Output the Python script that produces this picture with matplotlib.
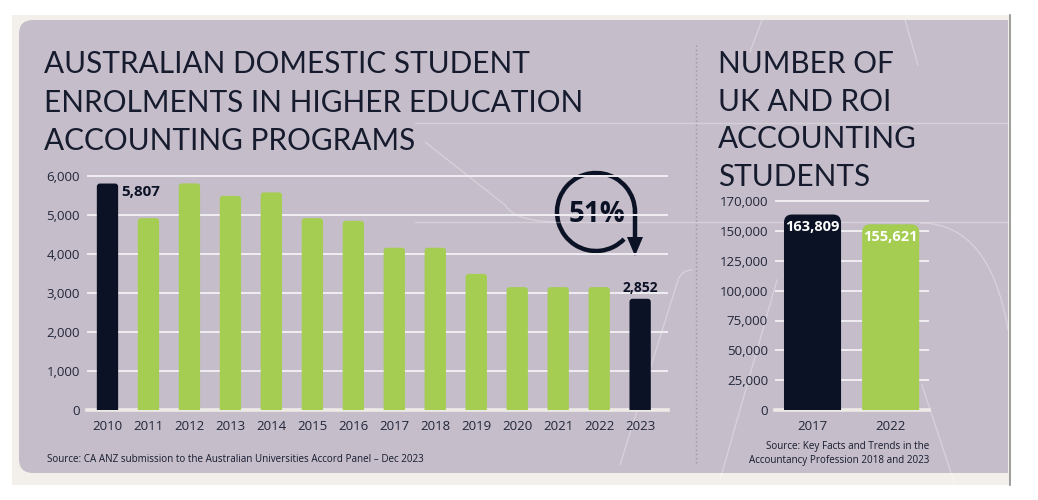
import matplotlib.pyplot as plt
from matplotlib.patches import FancyBboxPatch, Rectangle, Arc, Polygon
from matplotlib.path import Path
from matplotlib.patches import PathPatch

# ---- data ----
au_years = ["2010", "2011", "2012", "2013", "2014", "2015", "2016",
            "2017", "2018", "2019", "2020", "2021", "2022", "2023"]
au_enrol = [5807, 4920, 5810, 5490, 5580, 4920, 4850,
            4160, 4160, 3490, 3150, 3150, 3150, 2852]
au_highlight = [True] + [False] * 12 + [True]

uk_years = ["2017", "2022"]
uk_students = [163809, 155621]
uk_highlight = [True, False]

au_yticks = [0, 1000, 2000, 3000, 4000, 5000, 6000]
uk_yticks = [0, 25000, 50000, 75000, 100000, 125000, 150000, 175000]
uk_ytick_labels = ["0", "25,000", "50,000", "75,000", "100,000",
                   "125,000", "150,000", "170,000"]

NAVY = "#0c1226"
GREEN = "#a4cd51"
LAVENDER = "#c5bdca"
OFFWHITE = "#f3f0eb"
GRID = "#f1eef3"
TEXT = "#161b2e"

W, H = 1038, 500
fig = plt.figure(figsize=(W / 100, H / 100), dpi=100)
fig.patch.set_facecolor("white")

# background layer in pixel coordinates
bg = fig.add_axes([0, 0, 1, 1])
bg.set_xlim(0, W)
bg.set_ylim(H, 0)
bg.axis("off")

bg.add_patch(Rectangle((12, 15), 998, 470, facecolor=OFFWHITE, edgecolor="none"))
bg.plot([1010, 1010], [15, 485], color="#8d8d8d", lw=1.2)
bg.add_patch(FancyBboxPatch((19, 20), 989, 453, boxstyle="round,pad=0,rounding_size=14",
                            facecolor=LAVENDER, edgecolor="none"))
bg.add_patch(Rectangle((700, 20), 308, 453, facecolor=LAVENDER, edgecolor="none"))

# faint decorative lines
deco = dict(color="white", lw=1.0, alpha=0.3)
bg.plot([415, 1008], [123, 123], **deco)
bg.plot([415, 1008], [222, 222], **deco)
curve = Path([(425, 142), (505, 205), (515, 222), (560, 222)],
             [Path.MOVETO, Path.LINETO, Path.CURVE3, Path.CURVE3])
bg.add_patch(PathPatch(curve, facecolor="none", edgecolor="white", lw=1.0, alpha=0.3))
bg.plot([720, 777], [480, 280], **deco)
bg.plot([905, 918], [20, 65], **deco)
bg.plot([762, 750], [20, 52], **deco)
arc2 = Path([(920, 223), (990, 223), (1008, 330)],
            [Path.MOVETO, Path.CURVE3, Path.CURVE3])
bg.add_patch(PathPatch(arc2, facecolor="none", edgecolor="white", lw=1.0, alpha=0.3))
bg.plot([922, 955], [385, 485], **deco)
arc3 = Path([(620, 465), (678, 280), (682, 270), (692, 270)],
            [Path.MOVETO, Path.LINETO, Path.CURVE3, Path.CURVE3])
bg.add_patch(PathPatch(arc3, facecolor="none", edgecolor="white", lw=1.0, alpha=0.3))

# dotted separator
bg.plot([696, 696], [45, 465], color="#9e96a4", lw=1.0, ls=(0, (1, 2)))

# titles
title_font = dict(family="Lato", fontsize=21.4, color=TEXT, va="baseline", ha="left")
for i, line in enumerate(["AUSTRALIAN DOMESTIC STUDENT",
                          "ENROLMENTS IN HIGHER EDUCATION",
                          "ACCOUNTING PROGRAMS"]):
    bg.text(44, 73 + i * 38.5, line, **title_font)
for i, line in enumerate(["NUMBER OF", "UK AND ROI", "ACCOUNTING", "STUDENTS"]):
    bg.text(718, 73 + i * 37.7, line, **title_font)

# source notes
bg.text(47, 460, "Source: CA ANZ submission to the Australian Universities Accord Panel \u2013 Dec 2023",
        family="Open Sans", fontsize=7.1, color=TEXT, va="center", ha="left")
bg.text(929, 447, "Source: Key Facts and Trends in the",
        family="Open Sans", fontsize=7.1, color=TEXT, va="center", ha="right")
bg.text(929, 460, "Accountancy Profession 2018 and 2023",
        family="Open Sans", fontsize=7.1, color=TEXT, va="center", ha="right")

# 51% circular arrow
cx, cy, r = 596, 212, 39
bg.add_patch(Arc((cx, cy), 2 * r, 2 * r, theta1=44, theta2=360, color=NAVY, lw=3.2))
bg.plot([cx + r, cx + r], [cy - 1, 240], color=NAVY, lw=3.2, solid_capstyle="butt")
bg.add_patch(Polygon([(cx + r - 8, 237), (cx + r + 8, 237), (cx + r, 256)],
                     closed=True, facecolor=NAVY, edgecolor="none"))
bg.text(597, 214, "51%", family="Open Sans", fontweight="bold", fontsize=20,
        color=NAVY, ha="center", va="center")


def px_axes(left, top, right, bottom):
    a = fig.add_axes([left / W, 1 - bottom / H, (right - left) / W, (bottom - top) / H])
    a.patch.set_alpha(0)
    for s in a.spines.values():
        s.set_visible(False)
    return a


def round_bars(ax, bars, radius_px, px_per_x, px_per_y):
    rx = radius_px / px_per_x
    aspect = px_per_x / px_per_y
    for b in bars:
        x, w, h = b.get_x(), b.get_width(), b.get_height()
        ext = radius_px / px_per_y
        p = FancyBboxPatch((x, -ext), w, h + ext,
                           boxstyle=f"round,pad=0,rounding_size={rx}",
                           mutation_aspect=aspect,
                           facecolor=b.get_facecolor(), edgecolor="none", zorder=3)
        ax.add_patch(p)
        b.remove()


def style_axes(ax):
    ax.tick_params(axis="both", length=0, labelsize=9.5, labelcolor="#22263a")
    ax.tick_params(axis="y", pad=5)
    ax.tick_params(axis="x", pad=7)
    for lab in ax.get_xticklabels() + ax.get_yticklabels():
        lab.set_family("Open Sans")
    ax.grid(axis="y", color=GRID, lw=1.4, zorder=1)
    ax.set_axisbelow(True)
    ax.axhline(0, color="#eeebe7", lw=2.6, zorder=2, clip_on=False)


# ---- left chart ----
ax1 = px_axes(87, 164.3, 668, 410)
x1 = range(len(au_years))
bars1 = ax1.bar(x1, au_enrol, width=0.52,
                color=[NAVY if h else GREEN for h in au_highlight], zorder=3)
ax1.set_xlim(-0.5, 13.68)
ax1.set_ylim(0, 6300)
ax1.set_xticks(list(x1), au_years)
ax1.set_yticks(au_yticks, [f"{v:,}" for v in au_yticks])
style_axes(ax1)
for gl, v in zip(ax1.get_ygridlines(), au_yticks):
    if v == 0:
        gl.set_visible(False)
round_bars(ax1, bars1, 3, 581 / 14.18, 245.7 / 6300)
ax1.annotate(f"{au_enrol[0]:,}", (0.26, au_enrol[0]), xytext=(2, -6), textcoords="offset points",
             family="Open Sans", fontweight="bold", fontsize=11, color=NAVY,
             ha="left", va="center")
ax1.annotate(f"{au_enrol[-1]:,}", (13, au_enrol[-1]), xytext=(0, 3), textcoords="offset points",
             family="Open Sans", fontweight="bold", fontsize=10, color=NAVY,
             ha="center", va="bottom")

# ---- right chart ----
ax2 = px_axes(775, 195.2, 929, 410)
x2 = range(len(uk_years))
bars2 = ax2.bar(x2, uk_students, width=0.73,
                color=[NAVY if h else GREEN for h in uk_highlight], zorder=3)
ax2.set_xlim(-0.48, 1.49)
ax2.set_ylim(0, 180000)
ax2.set_xticks(list(x2), uk_years)
ax2.set_yticks(uk_yticks, uk_ytick_labels)
style_axes(ax2)
for gl, v in zip(ax2.get_ygridlines(), uk_yticks):
    if v == 0:
        gl.set_visible(False)
round_bars(ax2, bars2, 8, 154 / 1.97, 214.8 / 180000)
for xi, v in zip(x2, uk_students):
    ax2.annotate(f"{v:,}", (xi, v), xytext=(0, -4), textcoords="offset points",
                 family="Open Sans", fontweight="bold", fontsize=10.5, color="white",
                 ha="center", va="top", zorder=5)

fig.savefig("out.png", dpi=100, facecolor=fig.get_facecolor())
